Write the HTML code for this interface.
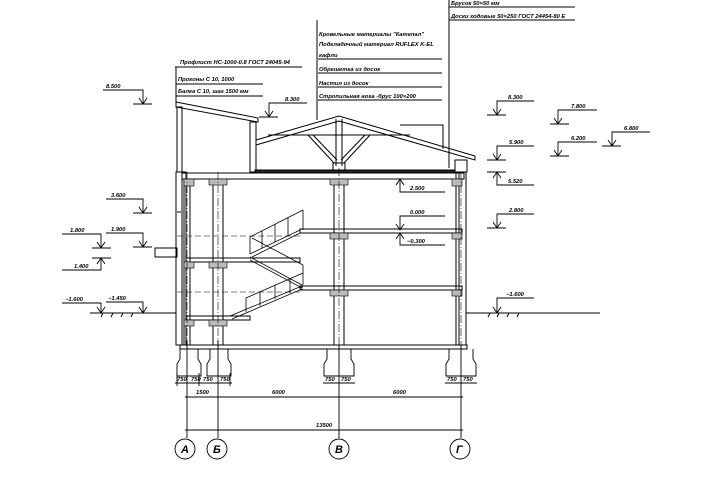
<!DOCTYPE html>
<html><head><meta charset="utf-8"><style>
html,body{margin:0;padding:0;background:#fff}
svg{display:block}
text{font-family:"Liberation Sans",sans-serif;font-style:italic;font-weight:bold;fill:#000}
</style></head><body>
<svg width="720" height="480" viewBox="0 0 720 480" xmlns="http://www.w3.org/2000/svg">
<g stroke="#000" stroke-width="1" fill="none">
<line x1="317" y1="20" x2="317" y2="120"/>
<line x1="449" y1="0" x2="449" y2="168"/>
<line x1="449" y1="7" x2="575" y2="7"/>
<line x1="449" y1="20" x2="575" y2="20"/>
<line x1="318" y1="59" x2="442" y2="59"/>
<line x1="318" y1="73" x2="442" y2="73"/>
<line x1="318" y1="87" x2="442" y2="87"/>
<line x1="318" y1="100" x2="442" y2="100"/>
<line x1="175" y1="67" x2="302" y2="67"/>
<line x1="176" y1="84" x2="263" y2="84"/>
<line x1="176" y1="96" x2="263" y2="96"/>
<line x1="176" y1="67" x2="176" y2="104"/>
<polygon points="176,102 258,118 258,122 176,107"/>
<rect x="177" y="107" width="5" height="65"/>
<rect x="250" y="122" width="6" height="50"/>
<polyline points="256,140 339,116 475,156 475,160 339,121 256,145"/>
<line x1="256" y1="145" x2="256" y2="172"/>
<polyline points="443,149 443,125 400,125"/>
<line x1="268" y1="135" x2="410" y2="135"/>
<line x1="336" y1="119" x2="336" y2="166"/>
<line x1="342" y1="119" x2="342" y2="166"/>
<line x1="308" y1="135" x2="334" y2="163"/>
<line x1="313" y1="135" x2="337" y2="160"/>
<line x1="370" y1="135" x2="344" y2="163"/>
<line x1="365" y1="135" x2="341" y2="160"/>
<rect x="333" y="163" width="12" height="7"/>
<rect x="455" y="160" width="12" height="12"/>
<rect x="255" y="170" width="200" height="3" fill="#222"/>
<rect x="182" y="173" width="282" height="6"/>
<rect x="300" y="229" width="162" height="4"/>
<rect x="300" y="286" width="162" height="4"/>
<rect x="186" y="258" width="114" height="4"/>
<rect x="186" y="316" width="64" height="4"/>
<rect x="180" y="345" width="287" height="4"/>
<rect x="176" y="172" width="10" height="173"/>
<line x1="182" y1="172" x2="182" y2="345"/>
<rect x="184" y="179" width="6" height="166"/>
<rect x="213" y="179" width="10" height="166"/>
<rect x="334" y="179" width="10" height="166"/>
<rect x="456" y="172" width="10" height="173"/>
<line x1="459" y1="172" x2="459" y2="345"/>
<rect x="155" y="248" width="22" height="9"/>
<line x1="177" y1="212" x2="181" y2="212"/>
</g>
<g fill="#bbb" stroke="#000" stroke-width="0.6">
<rect x="184" y="179" width="10" height="7"/><rect x="209" y="179" width="18" height="6"/>
<rect x="330" y="179" width="18" height="6"/><rect x="452" y="179" width="10" height="7"/>
<rect x="330" y="233" width="18" height="6"/><rect x="452" y="233" width="10" height="6"/>
<rect x="330" y="290" width="18" height="6"/><rect x="452" y="290" width="10" height="6"/>
<rect x="184" y="262" width="10" height="6"/><rect x="209" y="262" width="18" height="6"/>
<rect x="184" y="320" width="10" height="6"/><rect x="209" y="320" width="18" height="6"/>
</g>
<g stroke="#000" stroke-width="0.6" stroke-dasharray="8,2,1,2">
<line x1="187" y1="172" x2="187" y2="345"/><line x1="218" y1="172" x2="218" y2="345"/>
<line x1="339" y1="168" x2="339" y2="345"/><line x1="461" y1="172" x2="461" y2="345"/>
</g>
<g stroke="#000" stroke-width="0.6" stroke-dasharray="6,3">
<line x1="177" y1="236" x2="300" y2="236"/><line x1="177" y1="292" x2="300" y2="292"/>
</g>
<g stroke="#000" stroke-width="0.8" fill="none">
<polyline points="250,254 300,230 300,233 252,257"/>
<line x1="250" y1="237" x2="303" y2="210"/><line x1="250" y1="237" x2="250" y2="254"/><line x1="303" y1="210" x2="303" y2="230"/>
<line x1="262" y1="231" x2="262" y2="248"/><line x1="275" y1="224" x2="275" y2="242"/><line x1="288" y1="218" x2="288" y2="236"/>
<polyline points="250,257 302,285 302,288 250,260"/>
<line x1="252" y1="238" x2="303" y2="265"/><line x1="303" y1="265" x2="303" y2="285"/>
<polyline points="230,316 302,286 302,289 232,319"/>
<line x1="246" y1="298" x2="303" y2="273"/><line x1="246" y1="298" x2="246" y2="312"/>
<line x1="260" y1="292" x2="260" y2="306"/><line x1="275" y1="285" x2="275" y2="299"/><line x1="290" y1="279" x2="290" y2="293"/>
</g>
<g stroke="#000" stroke-width="1">
<line x1="90" y1="313" x2="176" y2="313"/><line x1="466" y1="313" x2="600" y2="313"/>
<line x1="101" y1="317" x2="103" y2="313"/><line x1="111" y1="317" x2="113" y2="313"/><line x1="121" y1="317" x2="123" y2="313"/><line x1="131" y1="317" x2="133" y2="313"/>
<line x1="488" y1="317" x2="490" y2="313"/><line x1="497" y1="317" x2="499" y2="313"/><line x1="507" y1="317" x2="509" y2="313"/><line x1="517" y1="317" x2="519" y2="313"/>
</g>
<g stroke="#000" stroke-width="0.9" fill="none">
<path d="M180,349 v10 l-3,5 v12 h24 v-12 l-3,-5 v-10"/>
<path d="M210,349 v10 l-3,5 v12 h24 v-12 l-3,-5 v-10"/>
<path d="M327,349 v10 l-3,5 v12 h30 v-12 l-3,-5 v-10"/>
<path d="M449,349 v10 l-3,5 v12 h30 v-12 l-3,-5 v-10"/>
<line x1="175" y1="383" x2="232" y2="383"/><line x1="323" y1="383" x2="355" y2="383"/><line x1="445" y1="383" x2="477" y2="383"/>
<line x1="187" y1="340" x2="187" y2="438"/><line x1="218" y1="340" x2="218" y2="438"/>
<line x1="339" y1="345" x2="339" y2="438"/><line x1="461" y1="345" x2="461" y2="438"/>
<line x1="199" y1="373" x2="199" y2="386"/><line x1="177" y1="373" x2="177" y2="386"/><line x1="230" y1="373" x2="230" y2="386"/>
<line x1="185" y1="397" x2="463" y2="397"/>
<line x1="185" y1="430" x2="463" y2="430"/>
<circle cx="185" cy="449" r="10"/><circle cx="217" cy="449" r="10"/>
<circle cx="339" cy="449" r="10"/><circle cx="460" cy="449" r="10"/>
</g>
<g stroke="#000" stroke-width="0.9" fill="none">
<path d="M103,90 h40 v14 M133,104 h19 M139,98 l4,6 l4,-6"/>
<path d="M307,103 h-38 v14 M259,117 h19 M265,111 l4,6 l4,-6"/>
<path d="M534,101 h-37 v14 M487,115 h19 M493,109 l4,6 l4,-6"/>
<path d="M597,110 h-39 v14 M550,124 h19 M554,118 l4,6 l4,-6"/>
<path d="M650,132 h-38 v14 M602,146 h19 M608,140 l4,6 l4,-6"/>
<path d="M534,146 h-37 v14 M487,160 h19 M493,154 l4,6 l4,-6"/>
<path d="M597,142 h-39 v14 M550,156 h19 M554,150 l4,6 l4,-6"/>
<path d="M534,185 h-37 v-13 M487,172 h19 M493,178 l4,-6 l4,6"/>
<path d="M534,214 h-37 v14 M487,228 h19 M493,222 l4,6 l4,-6"/>
<path d="M534,298 h-37 v15 M493,307 l4,6 l4,-6"/>
<path d="M106,199 h37 v14 M133,213 h19 M139,207 l4,6 l4,-6"/>
<path d="M106,233 h37 v14 M133,247 h19 M139,241 l4,6 l4,-6"/>
<path d="M62,234 h39 v14 M92,248 h19 M97,242 l4,6 l4,-6"/>
<path d="M62,270 h39 v-12 M92,258 h19 M97,264 l4,-6 l4,6"/>
<path d="M62,303 h39 v10 M97,307 l4,6 l4,-6"/>
<path d="M106,302 h37 v11 M139,307 l4,6 l4,-6"/>
<path d="M445,192 h-45 v-13 M396,185 l4,-6 l4,6"/>
<path d="M445,216 h-45 v14 M396,224 l4,6 l4,-6"/>
<path d="M445,245 h-45 v-12 M396,239 l4,-6 l4,6"/>
</g>
<g font-size="5.8">
<text x="106" y="88">8.500</text><text x="285" y="101">8.300</text>
<text x="508" y="99">8.300</text><text x="571" y="108">7.800</text><text x="624" y="130">6.800</text>
<text x="509" y="144">5.900</text><text x="571" y="140">6.200</text><text x="508" y="183">5.520</text>
<text x="509" y="212">2.800</text><text x="506" y="296">−1.600</text>
<text x="111" y="197">3.600</text><text x="111" y="231">1.900</text><text x="70" y="232">1.800</text>
<text x="74" y="268">1.400</text><text x="65" y="301">−1.600</text><text x="108" y="300">−1.450</text>
<text x="410" y="190">2.500</text><text x="410" y="214">0.000</text><text x="407" y="243">−0.300</text>
<text x="180" y="64">Профлист НС-1000-0.8  ГОСТ 24045-94</text>
<text x="178" y="81">Прогоны С 10, 1000</text>
<text x="178" y="93">Балка С 10, шаг 1500 мм</text>
<text x="319" y="36">Кровельные материалы "Катепал"</text>
<text x="319" y="46">Подкладочный материал RUFLEX K-EL</text>
<text x="319" y="57">кафли</text>
<text x="319" y="71">Обрешетка из досок</text>
<text x="319" y="85">Настил из досок</text>
<text x="319" y="98">Стропильная нога -брус 100×200</text>
<text x="451" y="5">Брусок 50×50 мм</text>
<text x="451" y="18">Доски ходовые 50×250  ГОСТ 24454-80 Е</text>
<text x="177" y="381">750</text><text x="191" y="381">750</text><text x="203" y="381">750</text><text x="220" y="381">750</text>
<text x="325" y="381">750</text><text x="341" y="381">750</text><text x="447" y="381">750</text><text x="463" y="381">750</text>
<text x="196" y="394">1500</text><text x="272" y="394">6000</text><text x="393" y="394">6000</text>
<text x="316" y="427">13500</text>
</g>
<g font-size="11" font-weight="normal">
<text x="181" y="453">А</text><text x="213" y="453">Б</text><text x="335" y="453">В</text><text x="456" y="453">Г</text>
</g>
</svg>
</body></html>
